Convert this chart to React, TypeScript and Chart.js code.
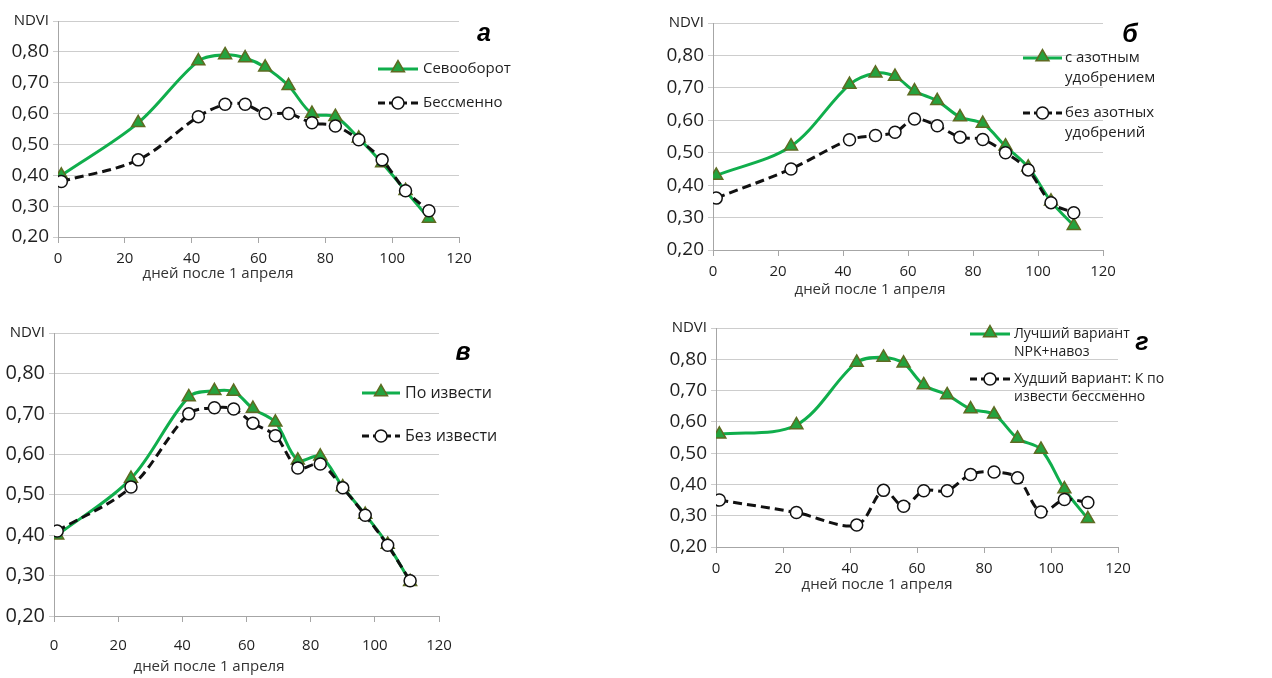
import React, { useEffect, useRef } from 'react';
import { Chart, registerables } from 'chart.js';

Chart.register(...registerables);

// ---- data ----
const DAYS = [1, 24, 42, 50, 56, 62, 69, 76, 83, 90, 97, 104, 111];
const X_TICKS = [0, 20, 40, 60, 80, 100, 120];
const Y_TICKS = [0.2, 0.3, 0.4, 0.5, 0.6, 0.7, 0.8, 0.9];
const Y_TICK_LABELS = ['0,20', '0,30', '0,40', '0,50', '0,60', '0,70', '0,80', 'NDVI'];
const X_TITLE = 'дней после 1 апреля';

const A_ROTATION = [0.40, 0.57, 0.77, 0.79, 0.78, 0.75, 0.69, 0.60, 0.59, 0.52, 0.44, 0.35, 0.26];
const A_MONO = [0.38, 0.45, 0.59, 0.63, 0.63, 0.60, 0.60, 0.57, 0.56, 0.515, 0.45, 0.35, 0.285];

const B_WITH_N = [0.43, 0.52, 0.71, 0.745, 0.735, 0.69, 0.66, 0.61, 0.59, 0.52, 0.455, 0.35, 0.275];
const B_NO_N = [0.36, 0.45, 0.54, 0.553, 0.563, 0.604, 0.583, 0.548, 0.541, 0.50, 0.447, 0.346, 0.315];

const V_LIME = [0.40, 0.54, 0.742, 0.757, 0.755, 0.713, 0.679, 0.585, 0.595, 0.519, 0.451, 0.377, 0.285];
const V_NO_LIME = [0.41, 0.519, 0.70, 0.715, 0.712, 0.677, 0.646, 0.566, 0.576, 0.517, 0.449, 0.375, 0.287];

const G_BEST = [0.56, 0.59, 0.79, 0.806, 0.787, 0.718, 0.686, 0.641, 0.624, 0.547, 0.512, 0.385, 0.29];
const G_WORST = [0.35, 0.31, 0.27, 0.381, 0.33, 0.38, 0.38, 0.432, 0.44, 0.421, 0.312, 0.352, 0.342];

const A_LABELS = [['Севооборот'], ['Бессменно']];
const B_LABELS = [['с азотным', 'удобрением'], ['без азотных', 'удобрений']];
const V_LABELS = [['По извести'], ['Без извести']];
const G_LABELS = [['Лучший вариант', 'NPK+навоз'], ['Худший вариант: К по', 'извести бессменно']];

// ---- styles ----
const FONT = "'Open Sans', 'Noto Sans', sans-serif";
const GREEN = '#10AE4C';
const TRI_FILL = '#25A23E';
const TRI_BORDER = '#5E6B22';
const BLACK = '#111111';
const TEXT = '#1f1f1f';
const GRID = '#cdcdcd';
const AXIS = '#a6a6a6';

const PANELS = [
  {
    key: 'a', left: 0, top: 0, width: 636, height: 300,
    area: { l: 58, t: 21, r: 459, b: 237 },
    green: A_ROTATION, black: A_MONO, labels: A_LABELS, letter: 'а',
    letterPos: [484, 34],
    legend: { x1: 378, x2: 418, tx: 423, gy: 69, by: 103, lh: 20, size: 15 },
    title: { x: 218, y: 274 },
    fonts: { y: 19, ndvi: 15, x: 15, title: 15 }, xPad: 7,
  },
  {
    key: 'b', left: 636, top: 0, width: 636, height: 300,
    area: { l: 77, t: 23, r: 467, b: 250 },
    green: B_WITH_N, black: B_NO_N, labels: B_LABELS, letter: 'б',
    letterPos: [494, 35],
    legend: { x1: 387, x2: 426, tx: 429, gy: 58, by: 113, lh: 20, size: 15 },
    title: { x: 234, y: 290 },
    fonts: { y: 19, ndvi: 15, x: 15, title: 15 }, xPad: 7,
  },
  {
    key: 'v', left: 0, top: 310, width: 636, height: 368,
    area: { l: 54, t: 23, r: 439, b: 306 },
    green: V_LIME, black: V_NO_LIME, labels: V_LABELS, letter: 'в',
    letterPos: [463, 43],
    legend: { x1: 362, x2: 400, tx: 405, gy: 83, by: 126, lh: 20, size: 16 },
    title: { x: 209, y: 357 },
    fonts: { y: 20, ndvi: 15, x: 15, title: 15 }, xPad: 15,
  },
  {
    key: 'g', left: 636, top: 310, width: 636, height: 300,
    area: { l: 80, t: 18, r: 482, b: 237 },
    green: G_BEST, black: G_WORST, labels: G_LABELS, letter: 'г',
    letterPos: [506, 33],
    legend: { x1: 334, x2: 374, tx: 378, gy: 24, by: 69, lh: 18, size: 14 },
    title: { x: 241, y: 275 },
    fonts: { y: 19, ndvi: 15, x: 15, title: 15 }, xPad: 7,
  },
];

function drawTriangle(ctx: CanvasRenderingContext2D, x: number, y: number, r: number) {
  ctx.save();
  ctx.beginPath();
  let rad = 0;
  ctx.moveTo(x + Math.sin(rad) * r, y - Math.cos(rad) * r);
  rad += (2 * Math.PI) / 3;
  ctx.lineTo(x + Math.sin(rad) * r, y - Math.cos(rad) * r);
  rad += (2 * Math.PI) / 3;
  ctx.lineTo(x + Math.sin(rad) * r, y - Math.cos(rad) * r);
  ctx.closePath();
  ctx.fillStyle = TRI_FILL;
  ctx.strokeStyle = TRI_BORDER;
  ctx.lineWidth = 1.5;
  ctx.fill();
  ctx.stroke();
  ctx.restore();
}

function drawCircle(ctx: CanvasRenderingContext2D, x: number, y: number, r: number) {
  ctx.save();
  ctx.beginPath();
  ctx.arc(x, y, r, 0, Math.PI * 2);
  ctx.fillStyle = '#ffffff';
  ctx.strokeStyle = BLACK;
  ctx.lineWidth = 1.5;
  ctx.fill();
  ctx.stroke();
  ctx.restore();
}

function makeExtras(p: any) {
  return {
    id: 'extras_' + p.key,
    afterDraw(chart: any) {
      const ctx: CanvasRenderingContext2D = chart.ctx;
      const lg = p.legend;
      const mx = (lg.x1 + lg.x2) / 2;
      ctx.save();
      // green legend entry
      ctx.strokeStyle = GREEN;
      ctx.lineWidth = 3;
      ctx.setLineDash([]);
      ctx.beginPath();
      ctx.moveTo(lg.x1, lg.gy);
      ctx.lineTo(lg.x2, lg.gy);
      ctx.stroke();
      drawTriangle(ctx, mx, lg.gy - 1, 7.5);
      // black legend entry
      ctx.strokeStyle = BLACK;
      ctx.lineWidth = 3;
      ctx.setLineDash([7, 4]);
      ctx.beginPath();
      ctx.moveTo(lg.x1, lg.by);
      ctx.lineTo(lg.x2, lg.by);
      ctx.stroke();
      ctx.setLineDash([]);
      drawCircle(ctx, mx, lg.by, 6);
      // legend text
      ctx.fillStyle = TEXT;
      ctx.font = `${lg.size}px ${FONT}`;
      ctx.textAlign = 'left';
      ctx.textBaseline = 'middle';
      p.labels[0].forEach((t: string, i: number) => ctx.fillText(t, lg.tx, lg.gy + i * lg.lh));
      p.labels[1].forEach((t: string, i: number) => ctx.fillText(t, lg.tx, lg.by + i * lg.lh));
      // x axis title
      ctx.font = `${p.fonts.title}px ${FONT}`;
      ctx.fillStyle = '#333333';
      ctx.textAlign = 'center';
      ctx.fillText(X_TITLE, p.title.x, p.title.y);
      // panel letter
      ctx.font = `bold italic 25px 'Liberation Sans', Arial, sans-serif`;
      ctx.fillStyle = '#000000';
      ctx.fillText(p.letter, p.letterPos[0], p.letterPos[1]);
      ctx.restore();
    },
  };
}

function PanelChart({ p }: { p: any }) {
  const ref = useRef<HTMLCanvasElement | null>(null);
  useEffect(() => {
    if (!ref.current) return;
    const greenData = DAYS.map((d, i) => ({ x: d, y: p.green[i] }));
    const blackData = DAYS.map((d, i) => ({ x: d, y: p.black[i] }));
    const chart = new Chart(ref.current, {
      type: 'line',
      data: {
        datasets: [
          {
            label: p.labels[0].join(' '),
            data: greenData,
            borderColor: GREEN,
            borderWidth: 3,
            tension: 0.33,
            pointStyle: 'triangle',
            pointRadius: 7.5,
            pointBackgroundColor: TRI_FILL,
            pointBorderColor: TRI_BORDER,
            pointBorderWidth: 1.5,
            order: 1,
          },
          {
            label: p.labels[1].join(' '),
            data: blackData,
            borderColor: BLACK,
            borderWidth: 3,
            borderDash: [9, 5],
            tension: 0.33,
            pointStyle: 'circle',
            pointRadius: 6,
            pointBackgroundColor: '#ffffff',
            pointBorderColor: BLACK,
            pointBorderWidth: 1.5,
            order: 0,
          },
        ],
      },
      options: {
        animation: false,
        responsive: false,
        devicePixelRatio: 1,
        layout: { padding: { left: 0, top: p.area.t, right: p.width - p.area.r, bottom: 0 } },
        plugins: { legend: { display: false }, tooltip: { enabled: false } },
        scales: {
          x: {
            type: 'linear',
            min: 0,
            max: 120,
            afterBuildTicks: (s: any) => { s.ticks = X_TICKS.map((v) => ({ value: v })); },
            ticks: {
              autoSkip: false,
              maxRotation: 0,
              padding: p.xPad,
              color: TEXT,
              font: { family: FONT, size: p.fonts.x },
            },
            grid: { drawOnChartArea: false, color: AXIS, tickLength: 6 },
            border: { color: AXIS },
            afterFit: (s: any) => { s.height = p.height - p.area.b; },
          },
          y: {
            type: 'linear',
            min: 0.2,
            max: 0.9,
            afterBuildTicks: (s: any) => { s.ticks = Y_TICKS.map((v) => ({ value: v })); },
            ticks: {
              autoSkip: false,
              padding: 4,
              color: TEXT,
              callback: (_v: any, i: number) => Y_TICK_LABELS[i],
              font: (c: any) => (c.index === Y_TICKS.length - 1
                ? { family: FONT, size: p.fonts.ndvi }
                : { family: FONT, size: p.fonts.y }),
            },
            grid: { color: GRID, tickLength: 5 },
            border: { color: AXIS },
            afterFit: (s: any) => { s.width = p.area.l; },
          },
        },
      } as any,
      plugins: [makeExtras(p)],
    });
    return () => chart.destroy();
  }, []);
  return (
    <canvas
      ref={ref}
      width={p.width}
      height={p.height}
      style={{ position: 'absolute', left: p.left, top: p.top, width: p.width, height: p.height }}
    />
  );
}

export default function App() {
  useEffect(() => {
    document.body.style.margin = '0';
    document.body.style.background = '#ffffff';
  }, []);
  return (
    <div style={{ position: 'relative', width: 1272, height: 678, background: '#ffffff', overflow: 'hidden' }}>
      {PANELS.map((p) => (
        <PanelChart key={p.key} p={p} />
      ))}
    </div>
  );
}
